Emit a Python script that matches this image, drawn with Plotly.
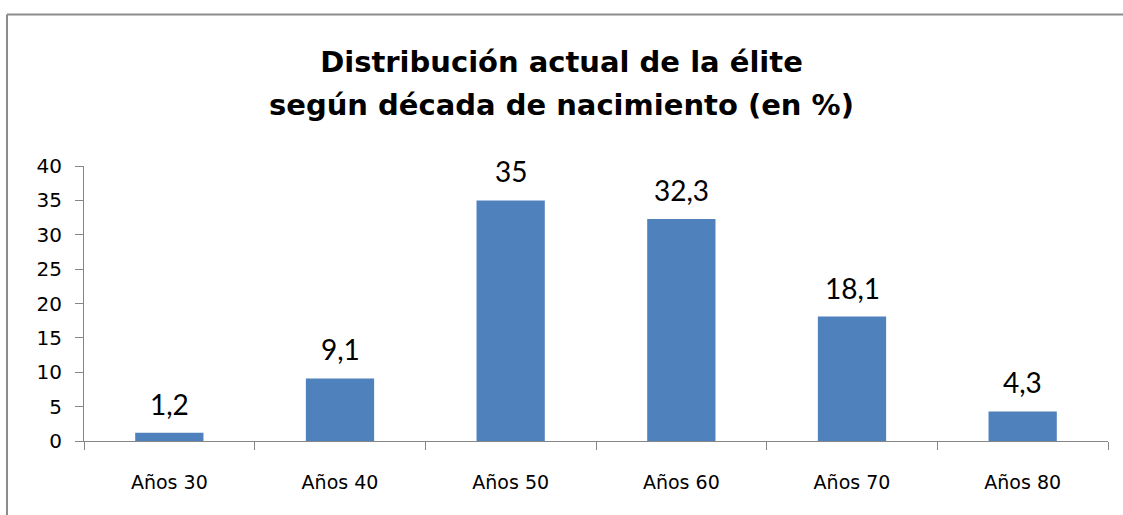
import plotly.graph_objects as go

categories = ["Años 30", "Años 40", "Años 50", "Años 60", "Años 70", "Años 80"]
values = [1.2, 9.1, 35, 32.3, 18.1, 4.3]
y_ticks = [0, 5, 10, 15, 20, 25, 30, 35, 40]
title_lines = ["Distribución actual de la élite", "según década de nacimiento (en %)"]

W, H = 1123, 515
L, R, T, B = 84, 15, 166, 74
pw, ph = W - L - R, H - T - B

fig = go.Figure(go.Bar(
    x=categories, y=values, width=0.4,
    marker=dict(color="#4F81BD", line=dict(width=0)),
    hoverinfo="skip",
))

# data labels above bars
for c, v in zip(categories, values):
    fig.add_annotation(
        x=c, y=v, xref="x", yref="y", text=str(v).replace(".", ","),
        showarrow=False, yanchor="bottom", yshift=10,
        font=dict(size=28, family="Lato", color="#000000"),
    )

fig.update_layout(
    width=W, height=H,
    margin=dict(l=L, r=R, t=T, b=B),
    paper_bgcolor="white", plot_bgcolor="white",
    showlegend=False,
    font=dict(family="Lato", color="#000000"),
    title=dict(
        text="<b>" + title_lines[0] + "</b>",
        x=0.5, xanchor="center", y=1 - 62 / H, yanchor="middle",
        font=dict(size=29, family="DejaVu Sans", color="#000000"),
    ),
    bargap=0.6,
)
fig.add_annotation(
    x=(W / 2 - L) / pw, y=(H - B - 105) / ph, xref="paper", yref="paper",
    xanchor="center", yanchor="middle",
    text="<b>" + title_lines[1] + "</b>", showarrow=False,
    font=dict(size=29, family="DejaVu Sans", color="#000000"),
)

fig.update_xaxes(
    type="category", tickson="boundaries", ticks="outside", ticklen=8,
    tickcolor="#868686", showline=True, linecolor="#868686", linewidth=1,
    showgrid=False, tickfont=dict(size=19, family="DejaVu Sans", color="#000000"),
    ticklabelstandoff=24,
)
fig.update_yaxes(
    range=[0, 40], tickvals=y_ticks, ticks="outside", ticklen=8,
    tickcolor="#868686", showline=True, linecolor="#868686", linewidth=1,
    showgrid=False, zeroline=False,
    tickfont=dict(size=20, family="DejaVu Sans", color="#000000"),
    ticklabelstandoff=9,
)

# outer chart frame (top and left edges)
fx = (7 - L) / pw
fy = (H - B - 14.5) / ph
fig.add_shape(type="line", xref="paper", yref="paper", x0=fx, x1=(W - L) / pw + 0.01,
              y0=fy, y1=fy, line=dict(color="#8C8C8C", width=2))
fig.add_shape(type="line", xref="paper", yref="paper", x0=fx, x1=fx,
              y0=fy, y1=-B / ph - 0.01, line=dict(color="#8C8C8C", width=2))

fig.write_html("out.html", config={"displayModeBar": False},
               post_script="document.body.style.margin='0';document.body.style.overflow='hidden';")
